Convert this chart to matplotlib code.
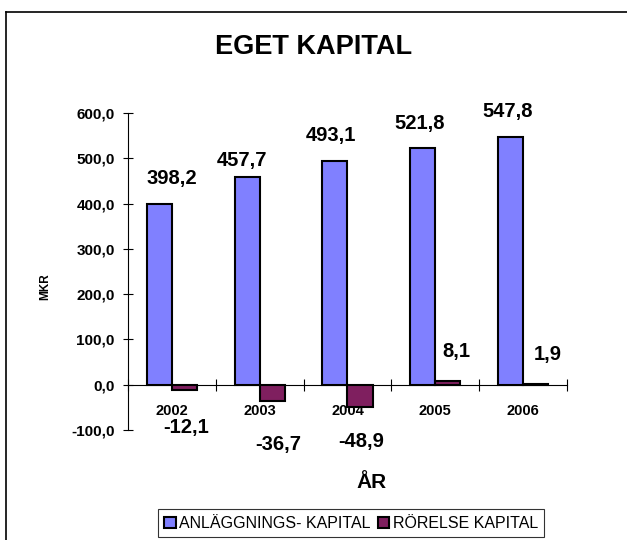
import matplotlib.pyplot as plt
import numpy as np
from matplotlib.lines import Line2D

plt.rcParams['font.family'] = ['Liberation Sans', 'DejaVu Sans']

years = ['2002', '2003', '2004', '2005', '2006']
anlaggning = [398.2, 457.7, 493.1, 521.8, 547.8]
rorelse = [-12.1, -36.7, -48.9, 8.1, 1.9]
series_names = ['ANLÄGGNINGS- KAPITAL', 'RÖRELSE KAPITAL']
yticks = [-100, 0, 100, 200, 300, 400, 500, 600]


def fmt(v):
    return f'{v:.1f}'.replace('.', ',')


fig = plt.figure(figsize=(6.27, 5.4), dpi=100)
ax = fig.add_axes([0.2041, 0.2037, 0.7002, 0.5870])

x = np.arange(len(years))
w = 0.286
b1 = ax.bar(x - w / 2, anlaggning, w, color='#8080FF', edgecolor='black', linewidth=1.5, zorder=3)
b2 = ax.bar(x + w / 2, rorelse, w, color='#7F1F5F', edgecolor='black', linewidth=1.5, zorder=3)

# label offsets (points) to mimic the original label placement
off1 = [(9, 19), (-4, 12), (-3, 19), (-2, 18), (-2, 18)]
off2 = [(1, -27), (4, -31), (1, -25), (6, 21), (9, 21)]
for i in range(len(years)):
    ax.annotate(fmt(anlaggning[i]), (x[i] - w / 2, anlaggning[i]), xytext=off1[i],
                textcoords='offset points', ha='center', va='center',
                fontsize=14.5, fontweight='bold')
    ax.annotate(fmt(rorelse[i]), (x[i] + w / 2, rorelse[i]), xytext=off2[i],
                textcoords='offset points', ha='center', va='center',
                fontsize=14.5, fontweight='bold')

ax.set_xlim(-0.5, len(years) - 0.5)
ax.set_ylim(-100, 600)
ax.set_yticks(yticks)
ax.set_yticklabels([fmt(v) for v in yticks], fontsize=11, fontweight='bold')
ax.tick_params(axis='y', direction='inout', length=7, width=0.8, pad=6)

ax.spines['top'].set_visible(False)
ax.spines['right'].set_visible(False)
ax.spines['bottom'].set_position(('data', 0))
ax.spines['left'].set_linewidth(0.8)
ax.spines['bottom'].set_linewidth(0.8)

ax.set_xticks(x)
ax.set_xticklabels(years, fontsize=10.5, fontweight='bold')
ax.tick_params(axis='x', which='major', length=0, pad=14)
ax.set_xticks(np.arange(len(years) + 1) - 0.5, minor=True)
ax.tick_params(axis='x', which='minor', direction='inout', length=8, width=0.8)

fig.text(0.5, 0.913, 'EGET KAPITAL', ha='center', va='center', fontsize=19.5, fontweight='bold')
fig.text(0.592, 0.106, 'ÅR', ha='center', va='center', fontsize=15, fontweight='bold')
fig.text(0.072, 0.469, 'MKR', ha='center', va='center', rotation=90, fontsize=8.5, fontweight='bold')

leg = fig.legend([b1, b2], series_names, loc='center', bbox_to_anchor=(0.56, 0.031),
                 ncol=2, fontsize=11.5, frameon=True, fancybox=False, edgecolor='black',
                 handlelength=0.7, handleheight=0.7, handletextpad=0.2, columnspacing=0.5,
                 borderpad=0.4, borderaxespad=0)
leg.get_frame().set_linewidth(0.8)

# outer chart border (top and left edges visible)
fig.add_artist(Line2D([6 / 627, 6 / 627], [0, 1 - 12 / 540], color='black', linewidth=1.2))
fig.add_artist(Line2D([6 / 627, 1], [1 - 12 / 540, 1 - 12 / 540], color='black', linewidth=1.2))

fig.savefig('out.png', dpi=100)
